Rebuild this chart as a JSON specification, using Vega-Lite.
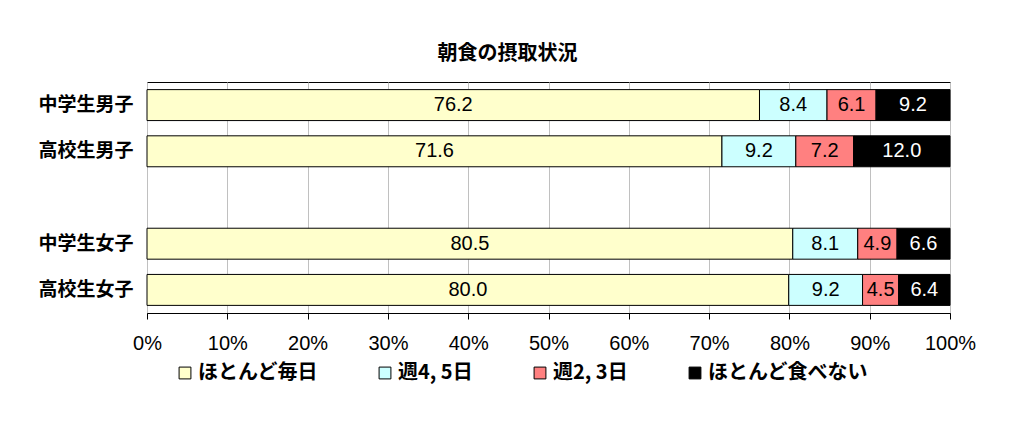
{
  "$schema": "https://vega.github.io/schema/vega-lite/v6.json",
  "autosize": {"type": "none"},
  "padding": {"left": 147, "top": 82, "right": 65, "bottom": 118},
  "width": 803,
  "height": 231,
  "background": "white",
  "title": {
    "text": "朝食の摂取状況",
    "font": "Noto Sans CJK JP",
    "fontSize": 20,
    "fontWeight": "bold",
    "color": "black",
    "anchor": "middle",
    "dx": -41,
    "offset": 18
  },
  "config": {
    "view": {"stroke": "black", "strokeWidth": 1},
    "axisX": {
      "labelFont": "Liberation Sans",
      "labelFontSize": 20,
      "labelColor": "black",
      "labelPadding": 14,
      "labelFlush": false,
      "labelOverlap": false,
      "labelBound": false,
      "tickColor": "black",
      "tickSize": 6,
      "domainColor": "black",
      "gridColor": "#c0c0c0",
      "gridWidth": 1,
      "title": null
    },
    "axisY": {
      "labelFont": "Noto Sans CJK JP",
      "labelFontWeight": "bold",
      "labelFontSize": 19,
      "labelColor": "black",
      "labelPadding": 14,
      "ticks": false,
      "domain": false,
      "grid": false,
      "title": null
    },
    "legend": {
      "labelFont": "Noto Sans CJK JP",
      "labelFontWeight": "bold",
      "labelFontSize": 20,
      "labelColor": "black",
      "labelLimit": 300,
      "symbolType": "square",
      "symbolSize": 140,
      "symbolStrokeColor": "black",
      "symbolStrokeWidth": 1,
      "labelOffset": 3,
      "columnPadding": 57,
      "padding": 0
    }
  },
  "data": {
    "values": [
      {"group": "中学生男子", "cat": "ほとんど毎日", "value": 76.2, "ord": 1},
      {"group": "中学生男子", "cat": "週4, 5日", "value": 8.4, "ord": 2},
      {"group": "中学生男子", "cat": "週2, 3日", "value": 6.1, "ord": 3},
      {"group": "中学生男子", "cat": "ほとんど食べない", "value": 9.2, "ord": 4},
      {"group": "高校生男子", "cat": "ほとんど毎日", "value": 71.6, "ord": 1},
      {"group": "高校生男子", "cat": "週4, 5日", "value": 9.2, "ord": 2},
      {"group": "高校生男子", "cat": "週2, 3日", "value": 7.2, "ord": 3},
      {"group": "高校生男子", "cat": "ほとんど食べない", "value": 12.0, "ord": 4},
      {"group": "中学生女子", "cat": "ほとんど毎日", "value": 80.5, "ord": 1},
      {"group": "中学生女子", "cat": "週4, 5日", "value": 8.1, "ord": 2},
      {"group": "中学生女子", "cat": "週2, 3日", "value": 4.9, "ord": 3},
      {"group": "中学生女子", "cat": "ほとんど食べない", "value": 6.6, "ord": 4},
      {"group": "高校生女子", "cat": "ほとんど毎日", "value": 80.0, "ord": 1},
      {"group": "高校生女子", "cat": "週4, 5日", "value": 9.2, "ord": 2},
      {"group": "高校生女子", "cat": "週2, 3日", "value": 4.5, "ord": 3},
      {"group": "高校生女子", "cat": "ほとんど食べない", "value": 6.4, "ord": 4}
    ]
  },
  "layer": [
    {
      "mark": {"type": "bar", "stroke": "black", "strokeWidth": 1},
      "encoding": {
        "y": {
          "field": "group",
          "type": "nominal",
          "scale": {
            "domain": ["中学生男子", "高校生男子", " ", "中学生女子", "高校生女子"],
            "paddingInner": 0.33,
            "paddingOuter": 0.165
          }
        },
        "x": {
          "field": "value",
          "type": "quantitative",
          "stack": "normalize",
          "scale": {"domain": [0, 1]},
          "axis": {"format": ".0%", "values": [0, 0.1, 0.2, 0.3, 0.4, 0.5, 0.6, 0.7, 0.8, 0.9, 1]}
        },
        "order": {"field": "ord", "type": "quantitative"},
        "color": {
          "field": "cat",
          "type": "nominal",
          "scale": {
            "domain": ["ほとんど毎日", "週4, 5日", "週2, 3日", "ほとんど食べない"],
            "range": ["#ffffcc", "#ccffff", "#ff8080", "#000000"]
          },
          "legend": {
            "title": null,
            "orient": "none",
            "direction": "horizontal",
            "columns": 4,
            "legendX": 28,
            "legendY": 281
          }
        }
      }
    },
    {
      "transform": [
        {"stack": "value", "groupby": ["group"], "sort": [{"field": "ord", "order": "ascending"}], "offset": "normalize", "as": ["s0", "s1"]},
        {"fold": ["s0", "s1"], "as": ["edge", "pos"]},
        {"aggregate": [{"op": "mean", "field": "pos", "as": "mid"}], "groupby": ["group", "cat", "value"]}
      ],
      "mark": {"type": "text", "font": "Liberation Sans", "fontSize": 20, "baseline": "middle", "align": "center"},
      "encoding": {
        "y": {"field": "group", "type": "nominal"},
        "x": {"field": "mid", "type": "quantitative"},
        "text": {"field": "value", "type": "quantitative", "format": ".1f"},
        "color": {
          "condition": {"test": "datum.cat === 'ほとんど食べない'", "value": "white"},
          "value": "black"
        }
      }
    }
  ]
}
